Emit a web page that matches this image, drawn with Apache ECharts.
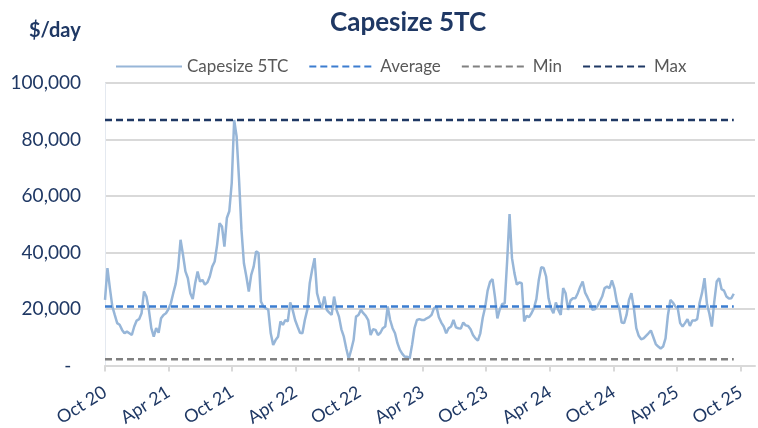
<!DOCTYPE html>
<html>
<head>
<meta charset="utf-8">
<script src="https://cdn.jsdelivr.net/npm/echarts@6/dist/echarts.min.js"></script>
<style>
html,body{margin:0;padding:0;background:#fff;}
#chart{width:758px;height:428px;}
</style>
</head>
<body>
<div id="chart"></div>
<script>
// ---- DATA ----
const seriesStart = '2020-10-01';          // first weekly observation
const weekStepDays = 7;                     // one value per week
const capesizeWeekly = [
  23200,34500,27400,20900,17900,15000,14400,12600,11400,12000,11400,10800,13800,15900,16400,18500,
  26200,24400,19700,13200,10200,13200,11600,16700,17900,18500,19900,22000,25600,28900,34500,44500,
  39200,33300,30900,25600,23500,29100,33300,29700,30300,28600,29400,31500,35000,36800,42700,50400,
  49200,42100,52200,54600,64600,
  86900,81100,65800,48000,36200,31500,26200,32100,35000,40400,39800,22600,20900,20300,19700,11400,
  7300,9000,10200,15600,14400,16100,15600,22300,19700,16100,13800,11600,11400,16100,19700,29100,
  33900,38000,25600,22300,20300,24400,19700,18700,17900,24400,19700,17300,12800,10200,6000,2400,
  5500,9000,17300,17900,19700,
  18500,17600,16100,10800,12800,12600,10800,11600,13200,13800,20900,16100,13200,11400,7900,5500,
  4100,3100,3100,2500,7300,13200,16100,16400,16100,16100,16700,17100,17900,20300,20900,17100,
  15200,13800,11400,13200,13800,16100,13500,13200,13100,15200,14200,14000,12800,10800,9600,8800,
  11400,16900,20700,26500,29600,
  30600,24400,16700,19900,21800,22000,36800,53600,38000,32700,28600,29400,29100,15600,17600,17100,
  18500,20300,23500,30300,34800,34500,31500,23800,20300,18500,22300,19700,17900,27400,25600,19700,
  23000,23800,23800,25600,27900,29700,25800,24100,22300,19700,19900,20900,22600,24400,27400,27900,
  27400,30100,27400,
  22600,20300,15200,15000,17900,23200,25600,20300,13200,10500,9300,9600,10500,11400,12400,10000,
  7600,6700,6000,6700,9600,17900,23200,22300,20900,20300,15000,13800,15000,16400,14000,15900,
  15900,16400,22300,25800,30900,21800,18300,13800,22600,29700,30900,27000,26500,24400,23700,23800,
  25400
];
const averageValue = 20900;
const minValue = 2200;
const maxValue = 86900;
const tickDates = ['2020-10-01','2021-04-01','2021-10-01','2022-04-01','2022-10-01','2023-04-01',
                   '2023-10-01','2024-04-01','2024-10-01','2025-04-01','2025-10-01'];
const tickLabels = ['Oct 20','Apr 21','Oct 21','Apr 22','Oct 22','Apr 23','Oct 23','Apr 24','Oct 24','Apr 25','Oct 25'];
const axisMinDate = '2020-10-01';
const axisMaxDate = '2025-11-11';
const yTicks = [0, 20000, 40000, 60000, 80000, 100000];
const seriesNames = ['Capesize 5TC','Average','Min','Max'];

// ---- build ----
function ts(s){ const p = s.split('-').map(Number); return new Date(p[0], p[1]-1, p[2]).getTime(); }
const s0 = seriesStart.split('-').map(Number);
const capeData = capesizeWeekly.map((v,i)=>[new Date(s0[0], s0[1]-1, s0[2] + i*weekStepDays).getTime(), v]);
const firstT = capeData[0][0], lastT = capeData[capeData.length-1][0];
const flat = v => [[firstT, v],[lastT, v]];
const tickTs = tickDates.map(ts);

const FONT = 'Lato, "Open Sans", sans-serif';
const NAVY = '#1F3864';
const chart = echarts.init(document.getElementById('chart'), null, {renderer:'canvas'});
chart.setOption({
  animation:false,
  backgroundColor:'#ffffff',
  title:[
    {text:'Capesize 5TC', left:325, top:5, textStyle:{fontFamily:FONT, fontWeight:'bold', fontSize:26, color:NAVY}},
    {text:'$/day', left:24, top:16, textStyle:{fontFamily:FONT, fontWeight:'bold', fontSize:20, color:NAVY}}
  ],
  legend:{
    data:seriesNames, top:53, left:110, itemWidth:66, itemHeight:12, itemGap:20,
    itemStyle:{opacity:0},
    textStyle:{fontFamily:FONT, fontSize:17, color:'#595959', padding:[0,0,0,0]}
  },
  grid:{left:105, right:3, top:83, bottom:62.5, outerBoundsMode:'none', containLabel:false},
  xAxis:{
    type:'value', min:ts(axisMinDate), max:ts(axisMaxDate),
    splitLine:{show:false},
    axisLine:{lineStyle:{color:'#d9d9d9', width:2}},
    axisTick:{show:true, customValues:tickTs, length:6, lineStyle:{color:'#d9d9d9', width:2}},
    axisLabel:{
      customValues:tickTs, rotate:32, margin:25, color:NAVY, fontFamily:FONT, fontSize:18,
      formatter:function(v){ const k = tickTs.findIndex(t=>Math.abs(t-v)<43200000); return k>=0?tickLabels[k]:''; }
    }
  },
  yAxis:{
    type:'value', min:yTicks[0], max:yTicks[yTicks.length-1], interval:20000,
    axisLine:{show:true, lineStyle:{color:'#e4e9f0', width:1}},
    axisTick:{show:false},
    splitLine:{lineStyle:{color:'#d9d9d9', width:2}},
    axisLabel:{color:NAVY, fontFamily:FONT, fontSize:19, margin:24,
      formatter:function(v){ return v===0?'-  ':v.toLocaleString('en-US'); }}
  },
  series:[
    {name:seriesNames[0], type:'line', data:capeData, symbol:'none', z:2,
      lineStyle:{color:'#97B6D8', width:2.5}, itemStyle:{color:'#97B6D8'}},
    {name:seriesNames[1], type:'line', data:flat(averageValue), symbol:'none', z:3,
      lineStyle:{color:'#3C7DD0', width:2.5, type:[7,4]}, itemStyle:{color:'#3C7DD0'}},
    {name:seriesNames[2], type:'line', data:flat(minValue), symbol:'none', z:3,
      lineStyle:{color:'#808080', width:2.5, type:[7,4]}, itemStyle:{color:'#808080'}},
    {name:seriesNames[3], type:'line', data:flat(maxValue), symbol:'none', z:3,
      lineStyle:{color:'#1F3864', width:2.5, type:[7,4]}, itemStyle:{color:'#1F3864'}}
  ]
});
</script>
</body>
</html>
